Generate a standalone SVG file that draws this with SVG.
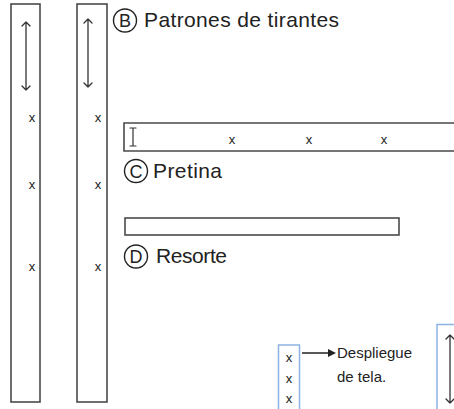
<svg xmlns="http://www.w3.org/2000/svg" width="454" height="409" viewBox="0 0 454 409">
<style>
.piece{fill:none;stroke:#4a4a4a;stroke-width:1.6}
.blue{fill:none;stroke:#8db3e2;stroke-width:1.5}
.arr{fill:none;stroke:#333;stroke-width:1.3;stroke-linecap:round;stroke-linejoin:round}
.x{font-family:"Liberation Sans",Arial,sans-serif;font-size:13px;fill:#222;text-anchor:middle}
.lbl{font-family:"Liberation Sans",Arial,sans-serif;font-size:21px;fill:#222}
.circ{fill:none;stroke:#222;stroke-width:1.4}
.cl{font-family:"Liberation Sans",Arial,sans-serif;font-size:18px;fill:#222;text-anchor:middle}
.sm{font-family:"Liberation Sans",Arial,sans-serif;font-size:15px;fill:#222}
</style>
<rect width="454" height="409" fill="#fff"/>
<g id="strip1">
<rect class="piece" x="11" y="4" width="29" height="398"/>
<path class="arr" d="M26 22V90M22 26L26 22L30 26M22 86L26 90L30 86"/>
<text class="x" x="32" y="122">x</text>
<text class="x" x="32" y="189">x</text>
<text class="x" x="32" y="271">x</text>
</g>
<g id="strip2">
<rect class="piece" x="77" y="4" width="30" height="398"/>
<path class="arr" d="M88 19V87M84 23L88 19L92 23M84 83L88 87L92 83"/>
<text class="x" x="98" y="122">x</text>
<text class="x" x="98" y="189">x</text>
<text class="x" x="98" y="271">x</text>
</g>
<g id="label-b">
<circle class="circ" cx="125" cy="20.5" r="11.5"/>
<text class="cl" x="125" y="27">B</text>
<text class="lbl" x="144" y="27" textLength="195">Patrones de tirantes</text>
</g>
<g id="pretina">
<path class="piece" d="M456 123H124V151H456"/>
<path class="arr" d="M133 128V146M130 128H136M130 146H136" style="stroke-width:1.2"/>
<text class="x" x="232" y="144">x</text>
<text class="x" x="309" y="144">x</text>
<text class="x" x="384" y="144">x</text>
<circle class="circ" cx="136" cy="171" r="11.5"/>
<text class="cl" x="136" y="177.5">C</text>
<text class="lbl" x="153" y="178" textLength="69">Pretina</text>
</g>
<g id="resorte">
<rect class="piece" x="125" y="218" width="274" height="17"/>
<circle class="circ" cx="136" cy="256.5" r="11.5"/>
<text class="cl" x="136" y="263">D</text>
<text class="lbl" x="156" y="263" textLength="71">Resorte</text>
</g>
<g id="despliegue">
<rect class="blue" x="278.5" y="345" width="21" height="70"/>
<text class="x" x="289" y="362">x</text>
<text class="x" x="289" y="383">x</text>
<text class="x" x="289" y="403">x</text>
<text class="sm" x="337" y="358" textLength="75">Despliegue</text>
<text class="sm" x="337" y="382">de tela.</text>
</g>
<g id="piece-right">
<rect class="blue" x="437" y="324.5" width="30" height="100"/>
<path class="arr" d="M450 335V403M446 339L450 335L454 339M446 399L450 403L454 399"/>
</g>
<g id="connectors">
<path d="M302 353H330" stroke="#222" stroke-width="1.5"/>
<path d="M336 353L328 349V357Z" fill="#222"/>
</g>
</svg>
